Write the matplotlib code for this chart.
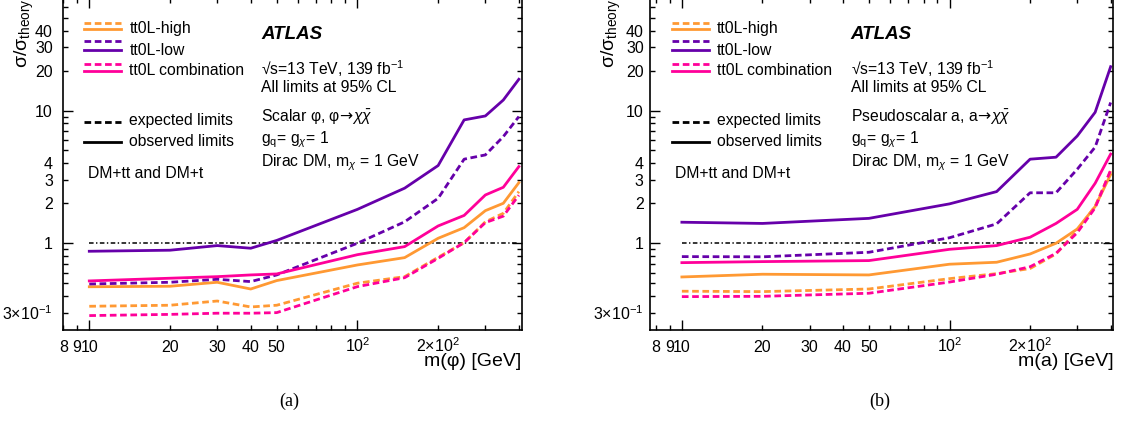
import numpy as np
import matplotlib
matplotlib.use('Agg')
import matplotlib.pyplot as plt

plt.rcParams['font.family'] = 'Liberation Sans'
plt.rcParams['mathtext.fontset'] = 'custom'
plt.rcParams['mathtext.rm'] = 'Liberation Sans'
plt.rcParams['mathtext.it'] = 'Liberation Sans:italic'
plt.rcParams['mathtext.bf'] = 'Liberation Sans:bold'
plt.rcParams['mathtext.sf'] = 'DejaVu Sans'

# scalar phi
mass_phi = [10, 20, 30, 40, 50, 100, 150, 200, 250, 300, 350, 400]
phi_high_obs = [0.47, 0.474, 0.508, 0.452, 0.523, 0.686, 0.779, 1.09, 1.31, 1.76, 2.0, 2.86]
phi_high_exp = [0.335, 0.341, 0.367, 0.331, 0.341, 0.50, 0.56, 0.784, 1.01, 1.45, 1.68, 2.45]
phi_low_obs = [0.87, 0.886, 0.96, 0.917, 1.05, 1.8, 2.6, 3.85, 8.5, 9.1, 12.0, 17.2]
phi_low_exp = [0.493, 0.508, 0.535, 0.514, 0.577, 1.0, 1.45, 2.18, 4.3, 4.63, 6.36, 9.0]
phi_comb_obs = [0.52, 0.545, 0.56, 0.577, 0.587, 0.82, 0.943, 1.35, 1.62, 2.31, 2.64, 3.78]
phi_comb_exp = [0.285, 0.291, 0.297, 0.297, 0.30, 0.471, 0.55, 0.77, 1.01, 1.43, 1.6, 2.3]

# pseudoscalar a
mass_a = [10, 20, 50, 100, 150, 200, 250, 300, 350, 400]
a_high_obs = [0.557, 0.584, 0.577, 0.695, 0.719, 0.83, 1.0, 1.28, 1.89, 3.3]
a_high_exp = [0.435, 0.432, 0.452, 0.541, 0.59, 0.645, 0.83, 1.25, 1.9, 3.5]
a_low_obs = [1.44, 1.41, 1.54, 1.98, 2.45, 4.3, 4.45, 6.43, 9.7, 21.4]
a_low_exp = [0.793, 0.79, 0.855, 1.10, 1.40, 2.4, 2.4, 3.61, 5.3, 11.5]
a_comb_obs = [0.714, 0.727, 0.74, 0.90, 0.96, 1.11, 1.41, 1.80, 2.83, 4.7]
a_comb_exp = [0.396, 0.398, 0.42, 0.51, 0.584, 0.665, 0.84, 1.2, 1.85, 3.56]

names = ['tt0L-high', 'tt0L-low', 'tt0L combination']
colors = ['#ff9933', '#6600aa', '#ff0099']

x_major = [10, 100]
x_minor = [8, 9, 20, 30, 40, 50, 60, 70, 80, 90, 200, 300, 400]
x_minor_labels = ['8', '9', '20', '30', '40', '50', '', '', '', '', r'2$\times$10$^2$', '', '']
y_major = [1, 10]
y_minor = [0.3, 0.4, 0.5, 0.6, 0.7, 0.8, 0.9, 2, 3, 4, 5, 6, 7, 8, 9, 20, 30, 40, 50, 60]
y_minor_labels = [r'3$\times$10$^{-1}$', '', '', '', '', '', '', '2', '3', '4', '', '', '', '',
                  '', '20', '30', '40', '', '']

decay = r'$\!\mathsf{\rightarrow}\!\chi\bar{\chi}$'
panels = [
    dict(mass=mass_phi, obs=[phi_high_obs, phi_low_obs, phi_comb_obs],
         exp=[phi_high_exp, phi_low_exp, phi_comb_exp], xlim=(7.96, 410),
         xlabel='m(φ) [GeV]', model='Scalar φ, φ' + decay,
         pos=[0.0559, 0.2199, 0.4091, 0.7849], ypad=7, tag='(a)', tagx=0.2576),
    dict(mass=mass_a, obs=[a_high_obs, a_low_obs, a_comb_obs],
         exp=[a_high_exp, a_low_exp, a_comb_exp], xlim=(7.6, 409),
         xlabel='m(a) [GeV]', model='Pseudoscalar a, a' + decay,
         pos=[0.5793, 0.2199, 0.4129, 0.7849], ypad=4.5, tag='(b)', tagx=0.784),
]

lw = 2.0
dash = (2.4, 1.3)
fs = 11.3

fig = plt.figure(figsize=(11.22, 4.23), dpi=100)
for p in panels:
    ax = fig.add_axes(p['pos'])
    ax.set_xscale('log')
    ax.set_yscale('log')

    ax.plot([10, 400], [1, 1], color='k', lw=1.1, dashes=(3, 1.6, 0.9, 1.6))
    for i in range(3):
        ax.plot(p['mass'], p['exp'][i], color=colors[i], lw=lw, dashes=dash)
        ax.plot(p['mass'], p['obs'][i], color=colors[i], lw=lw)

    ax.set_xlim(p['xlim'])
    ax.set_ylim(0.222, 70.5)

    ax.set_xticks(x_major, labels=['10', r'10$^2$'])
    ax.set_xticks(x_minor, labels=x_minor_labels, minor=True)
    ax.set_yticks(y_major, labels=['1', '10'])
    ax.set_yticks(y_minor, labels=y_minor_labels, minor=True)
    ax.tick_params(which='both', direction='in', top=True, right=True,
                   labelsize=11.5, width=1)
    ax.tick_params(which='major', length=7)
    ax.tick_params(which='minor', length=3.5)
    ax.tick_params(axis='x', which='both', pad=15.5)
    ax.tick_params(axis='y', which='both', pad=p['ypad'])
    for lab in ax.get_xticklabels(which='both'):
        lab.set_verticalalignment('baseline')
    for s in ax.spines.values():
        s.set_linewidth(1.2)

    ax.set_xlabel(p['xlabel'], fontsize=14, loc='right')
    ax.xaxis.set_label_coords(1.0, -0.095)
    ax.xaxis.label.set_verticalalignment('center')
    ax.set_ylabel('σ/σ$_{\\mathregular{theory}}$', fontsize=14, loc='top')
    ax.yaxis.set_label_coords(-0.084, 1.0)
    ax.yaxis.label.set_verticalalignment('center')

    # legend block
    ys_dash = [0.924, 0.870, 0.800]
    ys_solid = [0.906, 0.843, 0.781]
    ys_text = [0.908, 0.843, 0.783]
    for i in range(3):
        ax.plot([0.047, 0.127], [ys_dash[i]] * 2, transform=ax.transAxes,
                color=colors[i], lw=lw, dashes=dash)
        ax.plot([0.047, 0.127], [ys_solid[i]] * 2, transform=ax.transAxes,
                color=colors[i], lw=lw)
        ax.text(0.145, ys_text[i], names[i], transform=ax.transAxes,
                fontsize=fs, va='center')
    ax.plot([0.047, 0.127], [0.627] * 2, transform=ax.transAxes, color='k',
            lw=lw, dashes=dash)
    ax.text(0.145, 0.630, 'expected limits', transform=ax.transAxes,
            fontsize=fs, va='center')
    ax.plot([0.047, 0.127], [0.567] * 2, transform=ax.transAxes, color='k', lw=lw)
    ax.text(0.145, 0.569, 'observed limits', transform=ax.transAxes,
            fontsize=fs, va='center')
    ax.text(0.054, 0.472, 'DM+tt and DM+t', transform=ax.transAxes,
            fontsize=fs, va='center')

    tx = 0.433
    ax.text(tx, 0.875, 'ATLAS', transform=ax.transAxes, fontsize=13.5,
            fontweight='bold', fontstyle='italic', va='baseline')
    ax.text(tx, 0.768, '√s=13 TeV, 139 fb$^{-1}$', transform=ax.transAxes,
            fontsize=fs, va='baseline')
    ax.text(tx, 0.718, 'All limits at 95% CL', transform=ax.transAxes,
            fontsize=fs, va='baseline')
    ax.text(tx, 0.625, p['model'], transform=ax.transAxes, fontsize=fs, va='baseline')
    ax.text(tx, 0.561, r'g$_{\mathregular{q}}$= g$_{\chi}$= 1', transform=ax.transAxes,
            fontsize=fs, va='baseline')
    ax.text(tx, 0.492, r'Dirac DM, m$_{\chi}$ = 1 GeV', transform=ax.transAxes,
            fontsize=fs, va='baseline')

    fig.text(p['tagx'], 1 - 401.7 / 423, p['tag'], ha='center', va='center',
             fontsize=13, family='Liberation Serif')

plt.savefig('out.png', dpi=100)
